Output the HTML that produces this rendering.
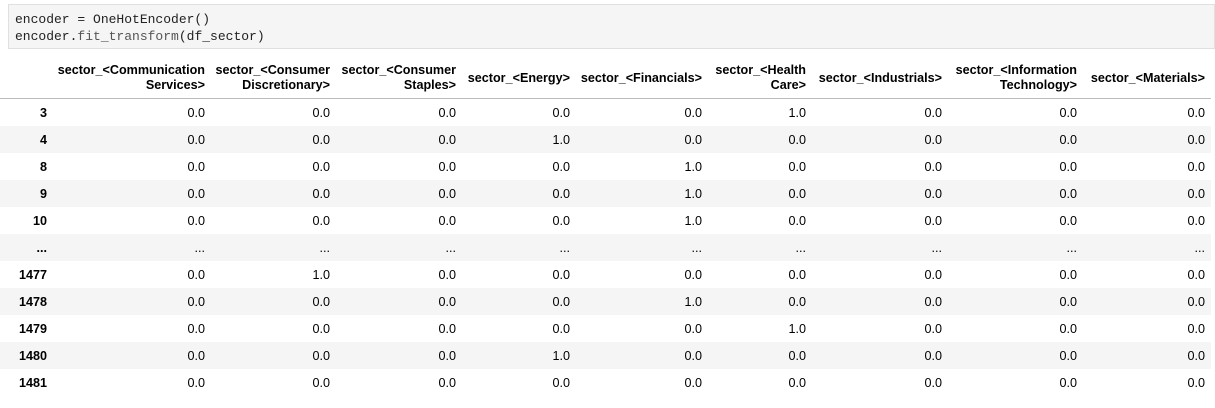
<!DOCTYPE html>
<html><head><meta charset="utf-8">
<style>
body{margin:0;width:1215px;height:408px;background:#fff;overflow:hidden;font-family:"Liberation Sans",sans-serif;}
.code{position:absolute;left:8px;top:4px;width:1207px;height:45px;background:#f5f5f5;border:1px solid #e0e0e0;box-sizing:border-box;font-family:"Liberation Mono",monospace;font-size:13px;color:#222;line-height:17px;padding:6px 0 0 6px;}
.fn{color:#555;}
table{position:absolute;left:0;top:58px;border-collapse:collapse;font-size:12.6px;color:#000;table-layout:fixed;}
th,td{text-align:right;padding:0 6px 0 0;white-space:nowrap;overflow:visible;}
thead th{height:40px;border-bottom:1px solid #bdbdbd;vertical-align:middle;line-height:15px;}
tbody td,tbody th{height:27px;}
tbody tr:nth-child(even){background:#f5f5f5;}
</style></head><body>
<div class="code">encoder = OneHotEncoder()<br>encoder.<span class="fn">fit_transform</span>(df_sector)</div>
<table>
<colgroup><col style="width:53px"><col style="width:158px"><col style="width:125px"><col style="width:126px"><col style="width:114px"><col style="width:132px"><col style="width:104px"><col style="width:136px"><col style="width:135px"><col style="width:128px"></colgroup>
<thead><tr>
<th></th>
<th>sector_&lt;Communication<br>Services&gt;</th>
<th>sector_&lt;Consumer<br>Discretionary&gt;</th>
<th>sector_&lt;Consumer<br>Staples&gt;</th>
<th>sector_&lt;Energy&gt;</th>
<th>sector_&lt;Financials&gt;</th>
<th>sector_&lt;Health<br>Care&gt;</th>
<th>sector_&lt;Industrials&gt;</th>
<th>sector_&lt;Information<br>Technology&gt;</th>
<th>sector_&lt;Materials&gt;</th>
</tr></thead>
<tbody id="tb"></tbody>
</table>
<script>
const rowIndex=["3","4","8","9","10","...","1477","1478","1479","1480","1481"];
const hotCol=[5,3,4,4,4,-1,1,4,5,3,-1];
const tb=document.getElementById('tb');
rowIndex.forEach((r,i)=>{
  const tr=document.createElement('tr');
  
  
  const th=document.createElement('th');
  th.textContent=r;
  
  
  tr.appendChild(th);
  for(let c=0;c<9;c++){
    const td=document.createElement('td');
    td.textContent=r==="..."?"...":(hotCol[i]===c?"1.0":"0.0");
    
    
    tr.appendChild(td);
  }
  tb.appendChild(tr);
});
</script>
</body></html>
